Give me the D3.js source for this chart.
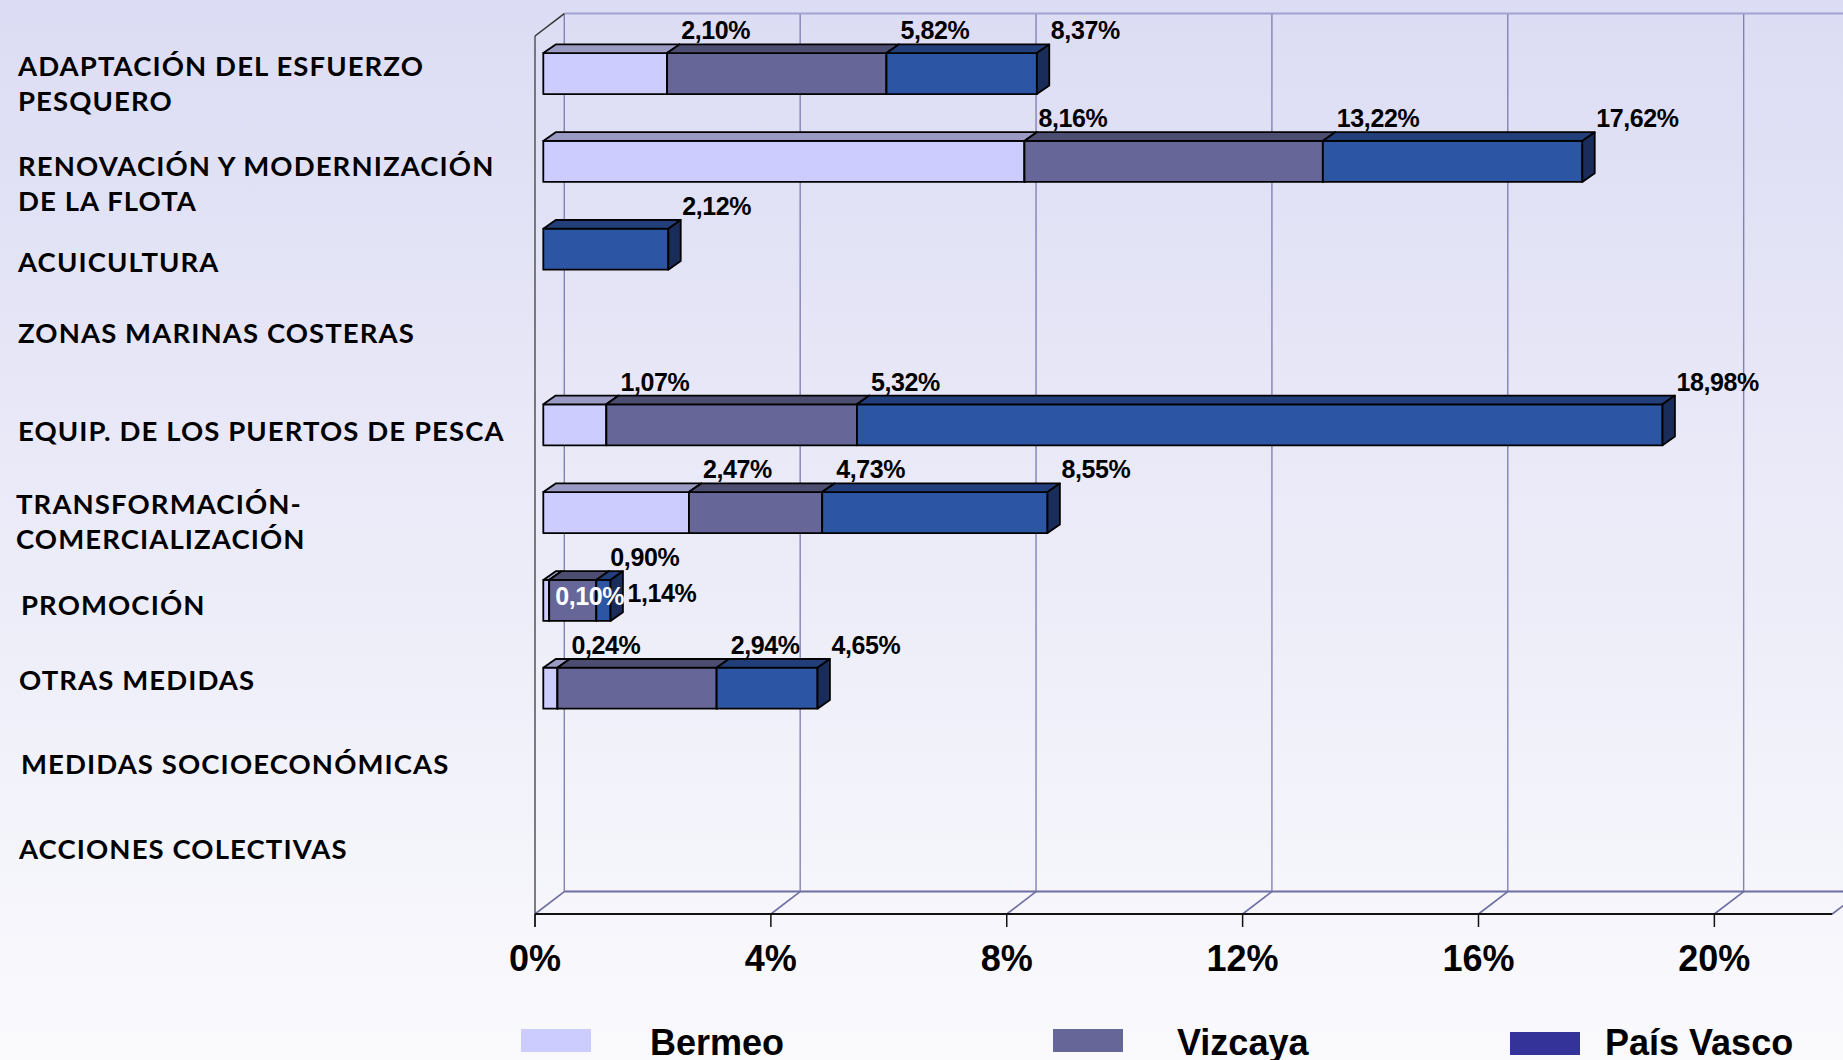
<!DOCTYPE html>
<html lang="es">
<head>
<meta charset="utf-8">
<title>Medidas por eje</title>
<script src="https://cdn.jsdelivr.net/npm/d3@7"></script>
<style>
  html, body { margin: 0; padding: 0; }
  body { width: 1843px; height: 1060px; overflow: hidden; }
  .cat { font-family: Lato, "DejaVu Sans", sans-serif; font-weight: 700; font-size: 27.5px; letter-spacing: 1.1px; fill: #000; }
  .val { font-family: "Liberation Sans", Arial, sans-serif; font-weight: 700; font-size: 25px; }
  .tick { font-family: "Liberation Sans", Arial, sans-serif; font-weight: 700; font-size: 36px; }
  .leg { font-family: "Liberation Sans", Arial, sans-serif; font-weight: 700; font-size: 36px; }
</style>
</head>
<body>
<svg id="chart" width="1843" height="1060"></svg>
<script>
// categories (top to bottom), "\n" marks the line break of the label
var categories = [
  "ADAPTACIÓN DEL ESFUERZO\nPESQUERO",
  "RENOVACIÓN Y MODERNIZACIÓN\nDE LA FLOTA",
  "ACUICULTURA",
  "ZONAS MARINAS COSTERAS",
  "EQUIP. DE LOS PUERTOS DE PESCA",
  "TRANSFORMACIÓN-\nCOMERCIALIZACIÓN",
  "PROMOCIÓN",
  "OTRAS MEDIDAS",
  "MEDIDAS SOCIOECONÓMICAS",
  "ACCIONES COLECTIVAS"
];
var seriesNames = ["Bermeo", "Vizcaya", "País Vasco"];
// values in % (each one includes the previous series)
var bermeo    = [2.10, 8.16, 0, 0, 1.07, 2.47, 0.10, 0.24, 0, 0];
var vizcaya   = [5.82, 13.22, 0, 0, 5.32, 4.73, 0.90, 2.94, 0, 0];
var paisVasco = [8.37, 17.62, 2.12, 0, 18.98, 8.55, 1.14, 4.65, 0, 0];
var xTicks = [0, 4, 8, 12, 16, 20];
var xMax = 22;

// category labels are free text boxes, nudged from the bar centre
var labelShift = [10, 22, 13, -4, 6, 9, 5, -8, -12, -15];
var labelX = [18, 18, 18, 18, 18, 16, 21, 19, 21, 19];

var W = 1843, H = 1060;
var svg = d3.select("#chart");

var defs = svg.append("defs");
var grad = defs.append("linearGradient").attr("id", "bg")
  .attr("x1", 0).attr("y1", 0).attr("x2", 0).attr("y2", 1);
grad.append("stop").attr("offset", "0%").attr("stop-color", "#dcdcf4");
grad.append("stop").attr("offset", "100%").attr("stop-color", "#fafafd");
svg.append("rect").attr("width", W).attr("height", H).attr("fill", "url(#bg)");

// front plane scales
var x = d3.scaleLinear().domain([0, xMax]).range([535, 1832.3]);
var y = d3.scaleBand().domain(categories).range([36, 914])
  .paddingInner(0.533).paddingOuter(0.2665);
var yTop = 36, yFloor = 914;

var depth = { dx: 29.3, dy: -22.4 };     // front -> back wall
var barOff = { dx: 8.3, dy: -6.3 };      // front plane -> bar front face
var barDepth = { dx: 12.4, dy: -8.7 };   // bar thickness

var grid = svg.append("g");
var gridColor = "#8282b6";

// back wall verticals
grid.selectAll(".bw").data(xTicks).enter().append("line")
  .attr("x1", function(d) { return x(d) + depth.dx; })
  .attr("x2", function(d) { return x(d) + depth.dx; })
  .attr("y1", yTop + depth.dy).attr("y2", yFloor + depth.dy)
  .attr("stroke", gridColor).attr("stroke-width", 1.4);
// back wall top + back floor edge
grid.append("line")
  .attr("x1", x(0) + depth.dx).attr("x2", x(xMax) + depth.dx)
  .attr("y1", yTop + depth.dy).attr("y2", yTop + depth.dy)
  .attr("stroke", "#a2a2d2").attr("stroke-width", 2);
grid.append("line")
  .attr("x1", x(0) + depth.dx).attr("x2", x(xMax) + depth.dx)
  .attr("y1", yFloor + depth.dy).attr("y2", yFloor + depth.dy)
  .attr("stroke", "#6e6ea2").attr("stroke-width", 2);
// floor diagonals
grid.selectAll(".fd").data(xTicks.concat([xMax])).enter().append("line")
  .attr("x1", function(d) { return x(d); })
  .attr("x2", function(d) { return x(d) + depth.dx; })
  .attr("y1", yFloor).attr("y2", yFloor + depth.dy)
  .attr("stroke", "#6e6ea2").attr("stroke-width", 1.6);
// left wall
grid.append("line")
  .attr("x1", x(0)).attr("x2", x(0)).attr("y1", yTop).attr("y2", yFloor + 13)
  .attr("stroke", "#555").attr("stroke-width", 1.5);
grid.append("line")
  .attr("x1", x(0)).attr("x2", x(0) + depth.dx).attr("y1", yTop).attr("y2", yTop + depth.dy)
  .attr("stroke", "#333").attr("stroke-width", 1.5);
// front floor edge + ticks
grid.append("line")
  .attr("x1", x(0)).attr("x2", x(xMax)).attr("y1", yFloor).attr("y2", yFloor)
  .attr("stroke", "#111").attr("stroke-width", 2);
grid.selectAll(".tk").data(xTicks).enter().append("line")
  .attr("x1", function(d) { return x(d); }).attr("x2", function(d) { return x(d); })
  .attr("y1", yFloor).attr("y2", yFloor + 13)
  .attr("stroke", "#111").attr("stroke-width", 1.5);

svg.selectAll(".tick").data(xTicks).enter().append("text")
  .attr("class", "tick")
  .attr("x", function(d) { return x(d); })
  .attr("y", 971)
  .attr("text-anchor", "middle")
  .text(function(d) { return d + "%"; });

// bar colours: front, top, side
var faceColors = [
  { front: "#ccccff", top: "#9a9ac4", side: "#8a8ab4" },
  { front: "#666699", top: "#4d4d72", side: "#3c3c5c" },
  { front: "#2c55a3", top: "#233f7b", side: "#1a2c5a" }
];
var legendColors = ["#ccccff", "#666699", "#333399"];

var series = [bermeo, vizcaya, paisVasco];
var segs = [];
categories.forEach(function(cat, i) {
  var prev = 0;
  series.forEach(function(vals, s) {
    var v = vals[i];
    if (v > 0) {
      segs.push({ cat: cat, i: i, s: s, start: prev, end: v });
      prev = v;
    }
  });
});

var fmt = d3.format(".2f");
function pct(v) { return fmt(v).replace(".", ",") + "%"; }

var bars = svg.append("g").attr("stroke", "#000").attr("stroke-width", 1.8)
  .attr("stroke-linejoin", "round");
var bw = y.bandwidth();
segs.forEach(function(d) {
  var x0 = x(d.start) + barOff.dx, x1 = x(d.end) + barOff.dx;
  var t = y(d.cat) + barOff.dy, b = t + bw;
  var c = faceColors[d.s];
  bars.append("rect").attr("x", x0).attr("y", t).attr("width", x1 - x0).attr("height", bw)
    .attr("fill", c.front);
  bars.append("polygon").attr("fill", c.top)
    .attr("points", [[x0, t], [x1, t], [x1 + barDepth.dx, t + barDepth.dy], [x0 + barDepth.dx, t + barDepth.dy]].join(" "));
  bars.append("polygon").attr("fill", c.side)
    .attr("points", [[x1, t], [x1, b], [x1 + barDepth.dx, b + barDepth.dy], [x1 + barDepth.dx, t + barDepth.dy]].join(" "));
});

// value labels; PROMOCIÓN has two of them moved by hand
var moved = { "6-0": "inside", "6-2": "right" };
svg.selectAll(".val").data(segs).enter().append("text")
  .attr("class", "val")
  .attr("fill", function(d) { return moved[d.i + "-" + d.s] === "inside" ? "#fff" : "#000"; })
  .attr("letter-spacing", -0.4)
  .attr("x", function(d) {
    var m = moved[d.i + "-" + d.s];
    if (m === "inside") return x(0) + barOff.dx + 12;
    if (m === "right") return x(d.end) + barOff.dx + 17;
    return x(d.end) + barOff.dx + 14;
  })
  .attr("y", function(d) {
    var t = y(d.cat) + barOff.dy;
    var m = moved[d.i + "-" + d.s];
    if (m === "inside") return t + bw / 2 + 5;
    if (m === "right") return t + bw / 2 + 2;
    return t + barDepth.dy - 5;
  })
  .text(function(d) { return pct(d.end); });

// category labels
var lineH = 34.5;
categories.forEach(function(cat, i) {
  var lines = cat.split("\n");
  var cy = y(cat) + barOff.dy + bw / 2 + labelShift[i];
  var first = cy - (lines.length - 1) * lineH / 2 + 10;
  var tx = svg.append("text").attr("class", "cat");
  lines.forEach(function(l, k) {
    tx.append("tspan").attr("x", labelX[i]).attr("y", first + k * lineH).text(l);
  });
});

// legend
var legendPos = [
  { sx: 521, sy: 1029, tx: 650 },
  { sx: 1053, sy: 1029, tx: 1177 },
  { sx: 1510, sy: 1032, tx: 1605 }
];
var leg = svg.append("g");
seriesNames.forEach(function(name, s) {
  var p = legendPos[s];
  leg.append("rect").attr("x", p.sx).attr("y", p.sy).attr("width", 70).attr("height", 23)
    .attr("fill", legendColors[s]);
  leg.append("text").attr("class", "leg").attr("x", p.tx).attr("y", 1055).text(name);
});
</script>
</body>
</html>
